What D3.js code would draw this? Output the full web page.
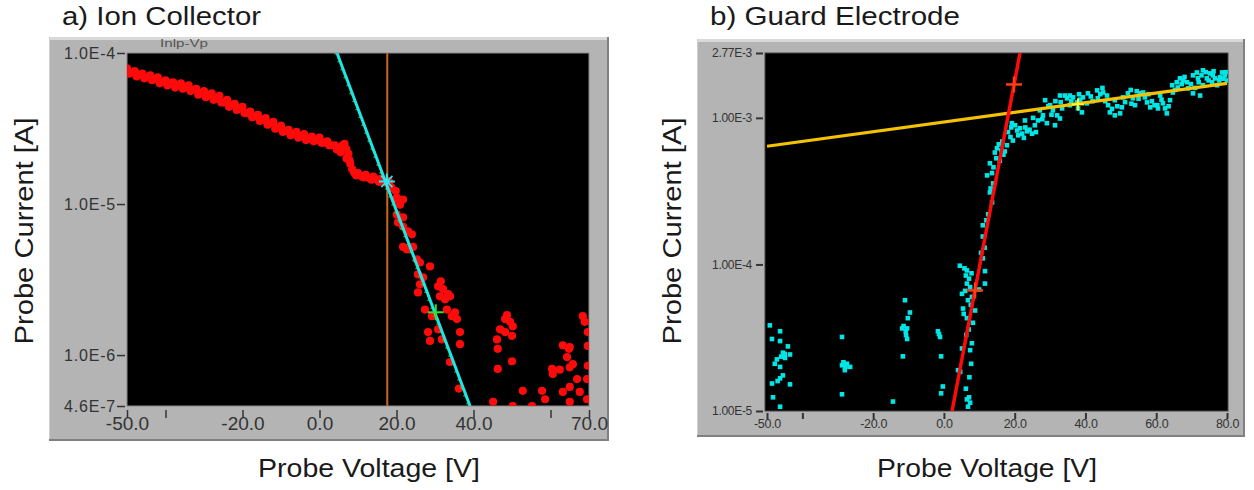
<!DOCTYPE html>
<html><head><meta charset="utf-8">
<script src="https://cdn.jsdelivr.net/npm/d3@7"></script>
<style>
html,body{margin:0;padding:0;background:#fff;}
svg{display:block;font-family:"Liberation Sans",Arial,Helvetica,sans-serif;}
</style></head><body>
<svg id="chart" width="1254" height="490"></svg>
<script>
// ---------------- a) Ion Collector ----------------
const ionXDomain = [-50, 70];
const ionYDomain = [4.6e-7, 1e-4];
const ionXTicks = [-50, -40, -20, 0, 20, 40, 60, 70];
const ionXTickLabels = ["-50.0", "", "-20.0", "0.0", "20.0", "40.0", "", "70.0"];
const ionYTicks = [1e-4, 1e-5, 1e-6, 4.6e-7];
const ionYTickLabels = ["1.0E-4", "1.0E-5", "1.0E-6", "4.6E-7"];

// measured probe points [voltage V, current A]
const ionPoints = [
  [-50,7.9e-5],[-49,7.4e-5],[-48,7.6e-5],[-47,7.2e-5],[-46,7.3e-5],[-45,6.9e-5],[-44,7.1e-5],[-43,6.7e-5],
  [-42,6.9e-5],[-41,6.4e-5],[-40,6.6e-5],[-39,6.3e-5],[-38,6.4e-5],[-37,6.1e-5],[-36,6.3e-5],[-35,5.9e-5],
  [-34,6.1e-5],[-33,5.7e-5],[-32,5.8e-5],[-31,5.4e-5],[-30,5.6e-5],[-29,5.2e-5],[-28,5.4e-5],[-27,5.0e-5],
  [-26,5.2e-5],[-25,4.7e-5],[-24,4.9e-5],[-23,4.5e-5],[-22,4.6e-5],[-21,4.3e-5],[-20,4.4e-5],[-19,4.0e-5],
  [-18,4.1e-5],[-17,3.8e-5],[-16,3.9e-5],[-15,3.6e-5],[-14,3.7e-5],[-13,3.4e-5],[-12,3.5e-5],[-11,3.2e-5],
  [-10,3.3e-5],[-9,3.05e-5],[-8,3.1e-5],[-7,2.9e-5],[-6,3.0e-5],[-5,2.8e-5],[-4,2.9e-5],[-3,2.7e-5],
  [-2,2.8e-5],[-1,2.65e-5],[0,2.75e-5],[1,2.55e-5],[2,2.6e-5],[3,2.45e-5],[4,2.45e-5],[5,2.3e-5],
  [5.5,2.2e-5],[6,2.45e-5],[6.5,2.5e-5],[7,2.3e-5],[7,2.0e-5],[7.5,2.15e-5],[8,1.85e-5],[8.5,1.7e-5],
  [9,1.62e-5],[10,1.6e-5],[11,1.52e-5],[12,1.56e-5],[13,1.48e-5],[14,1.52e-5],[15,1.45e-5],[16,1.47e-5],
  [17,1.4e-5],[18,1.42e-5],[18.5,1.3e-5],
  [-49.5,7.3e-5],[-47.5,7.0e-5],[-45.5,6.8e-5],[-43.5,6.6e-5],[-41.5,6.3e-5],[-39.5,6.1e-5],[-37.5,5.9e-5],
  [-35.5,5.8e-5],[-33.5,5.6e-5],[-31.5,5.3e-5],[-29.5,5.1e-5],[-27.5,4.9e-5],[-25.5,4.7e-5],[-23.5,4.4e-5],
  [-21.5,4.2e-5],[-19.5,4.0e-5],[-17.5,3.75e-5],[-15.5,3.55e-5],[-13.5,3.35e-5],[-11.5,3.15e-5],[-9.5,3.0e-5],
  [-7.5,2.85e-5],[-5.5,2.75e-5],[-3.5,2.65e-5],[-1.5,2.6e-5],[0.5,2.55e-5],[2.5,2.45e-5],[4.5,2.3e-5],
  [7.8,1.95e-5],[9.5,1.55e-5],[11.5,1.5e-5],[13.5,1.45e-5],[15.5,1.4e-5],[17.5,1.38e-5],
  [18.3,1.3e-5],[19.8,1.22e-5],[18.6,1.28e-5],[19.6,1.07e-5],[20.1,1.1e-5],[21.7,1.07e-5],[20.9,9.9e-6],
  [21.7,8.15e-6],[20.1,8.5e-6],[20.4,7.55e-6],[21.7,7.1e-6],[23.0,6.6e-6],[24.0,6.3e-6],[21.7,5.2e-6],
  [22.7,5.0e-6],[24.3,5.2e-6],[25.3,4.3e-6],[26.1,4.1e-6],[28.7,3.86e-6],[25.6,3.42e-6],[26.1,2.94e-6],
  [25.6,2.6e-6],[26.9,3.27e-6],[30.8,2.85e-6],[32.1,2.73e-6],[33.4,2.53e-6],[32.6,2.34e-6],[31.3,2.45e-6],
  [31.5,3.08e-6],[33.9,2.45e-6],[35.2,1.92e-6],[35.7,1.73e-6],[34.4,1.81e-6],[33.1,2.0e-6],[27.4,2.0e-6],
  [29.2,1.81e-6],[28.2,1.42e-6],[28.7,1.24e-6],[30.8,1.48e-6],[36.5,1.42e-6],[36.5,1.18e-6],[31.8,1.27e-6],
  [33.9,9.0e-7],[36.2,6.0e-7],
  [48.2,1.73e-6],[49.5,1.66e-6],[50.2,1.55e-6],[46.9,1.48e-6],[48.2,1.42e-6],[50.0,1.34e-6],[46.1,1.27e-6],
  [48.7,1.84e-6],[46.3,1.1e-6],[50.0,9.1e-7],[46.3,8.1e-7],[52.8,5.8e-7],[57.8,5.8e-7],[58.6,5.1e-7],
  [45.1,4.9e-7],[50.2,4.6e-7],[55.2,4.6e-7],[60.4,8.1e-7],[60.6,7.5e-7],[62.4,8.0e-7],[63.2,1.16e-6],
  [65.0,1.13e-6],[64.3,9.7e-7],[65.8,8.7e-7],[65.0,8.3e-7],[66.9,6.94e-7],[65.0,6.15e-7],[63.2,5.7e-7],
  [65.0,4.9e-7],[69.5,6.94e-7],[69.7,1.15e-6],[69.7,8.5e-7],[68.4,1.81e-6],[68.9,1.66e-6],[69.7,1.42e-6],
  [67.6,5.7e-7],[69.5,5.1e-7],[64.8,1.1e-6]
];
const ionFitVoltage = [4.55, 39.1];
const ionFitCurrent = [1e-4, 4.6e-7];
const ionPlasmaPotential = 17.6;
const ionStarMarker = [17.5, 1.41e-5];
const ionGreenMarker = [30.2, 1.92e-6];

// ---------------- b) Guard Electrode ----------------
const guardXDomain = [-50, 80];
const guardYDomain = [1e-5, 2.77e-3];
const guardXTicks = [-50, -40, -20, 0, 20, 40, 60, 80];
const guardXTickLabels = ["-50.0", "", "-20.0", "0.0", "20.0", "40.0", "60.0", "80.0"];
const guardYTicks = [2.77e-3, 1e-3, 1e-4, 1e-5];
const guardYTickLabels = ["2.77E-3", "1.00E-3", "1.00E-4", "1.00E-5"];

const guardPoints = [
  [-49.2,3.84e-5],[-46.3,3.5e-5],[-48.6,3.1e-5],[-46.3,3.0e-5],[-44.1,2.76e-5],[-45.5,2.5e-5],[-43.5,2.43e-5],
  [-44.9,2.3e-5],[-47.2,2.25e-5],[-46.3,2.0e-5],[-45.5,1.75e-5],[-46.3,1.67e-5],[-48.6,1.54e-5],[-43.5,1.52e-5],
  [-48.3,1.24e-5],[-46.3,1.07e-5],[-47.8,2.1e-5],[-46.0,2.35e-5],[-45.0,2.45e-5],[-47.0,1.6e-5],
  [-28.8,3.2e-5],[-26.5,2.0e-5],[-28.8,2.05e-5],[-28.0,1.9e-5],[-27.4,2.1e-5],[-28.8,1.3e-5],[-27.8,2.0e-5],[-28.4,2.15e-5],
  [-11.0,5.7e-5],[-9.6,4.7e-5],[-10.2,4.3e-5],[-11.8,3.66e-5],[-10.4,3.66e-5],[-10.7,3.3e-5],[-10.4,3.1e-5],
  [-11.6,2.36e-5],[-14.4,1.16e-5],[-10.8,3.5e-5],[-11.4,3.8e-5],
  [-1.7,3.5e-5],[-1.1,3.2e-5],[-0.8,2.36e-5],[-0.3,1.47e-5],[-0.8,1.32e-5],[-1.4,3.35e-5],
  [4.5,9.8e-5],[6.5,9.1e-5],[6.2,8.4e-5],[7.1,8.0e-5],[6.5,7.4e-5],[7.4,7.0e-5],[5.1,6.3e-5],[6.8,5.7e-5],
  [7.9,6.0e-5],[5.4,5.0e-5],[6.5,4.3e-5],[8.2,4.0e-5],[7.9,2.9e-5],[5.1,2.67e-5],[7.4,2.6e-5],[7.7,2.1e-5],
  [4.0,1.9e-5],[6.2,1.42e-5],[7.1,1.24e-5],[7.4,1.14e-5],[6.8,1.07e-5],[11.0,1.1e-4],[11.6,9.0e-5],
  [11.6,7.4e-5],[9.9,6.75e-5],[8.8,4.85e-5],
  [5.8,9.4e-5],[7.8,8.7e-5],[6.0,6.6e-5],[7.6,5.3e-5],[5.6,4.6e-5],[7.0,3.6e-5],[6.3,3.3e-5],[7.2,1.7e-5],
  [6.5,1.2e-5],[4.6,1.85e-5],
  [11.0,1.85e-4],[11.0,1.55e-4],[14.4,5.8e-4],[15.0,6.2e-4],[13.0,4.9e-4],[13.6,4.2e-4],[12.2,4.05e-4],
  [13.9,3.57e-4],[13.0,3.1e-4],[13.6,2.65e-4],
  [12.5,2.2e-4],[12.0,2.0e-4],[13.2,3.3e-4],[14.0,4.6e-4],[14.8,5.3e-4],[15.5,6.6e-4],[16.2,6.0e-4],
  [16.8,5.6e-4],[15.8,5.1e-4],[17.2,5.9e-4],[16.5,6.9e-4],[11.5,1.3e-4],[10.5,1.2e-4],
  [17.8,6.5e-4],[18.1,8.0e-4],[19.2,9.2e-4],[20.1,8.9e-4],[20.7,8.2e-4],[21.5,8.5e-4],[23.5,8.1e-4],
  [24.9,7.8e-4],[22.1,7.8e-4],[25.2,1.0e-3],[26.6,9.6e-4],[28.0,1.04e-3],[29.1,9.2e-4],[28.6,1.32e-3],
  [18.8,7.4e-4],[19.5,7.0e-4],[21.0,7.6e-4],[22.6,7.3e-4],[23.0,8.6e-4],[24.2,8.3e-4],[19.0,8.6e-4],[26.0,8.0e-4],
  [30.8,1.125e-3],[32.0,1.04e-3],[32.8,9.9e-4],[33.4,1.16e-3],[34.8,1.36e-3],[35.6,1.42e-3],[36.5,1.38e-3],
  [37.6,1.275e-3],[37.9,1.16e-3],[39.0,1.09e-3],[40.4,1.256e-3],[40.7,1.47e-3],[39.3,1.38e-3],[43.3,1.54e-3],
  [45.0,1.49e-3],[46.1,1.42e-3],[43.5,1.36e-3],[46.4,1.22e-3],[46.9,1.09e-3],[48.3,1.04e-3],[49.8,1.073e-3],
  [50.3,1.18e-3],[50.6,1.38e-3],[52.0,1.47e-3],[53.4,1.36e-3],[55.4,1.47e-3],[56.3,1.49e-3],[57.4,1.275e-3],
  [58.3,1.18e-3],[60.5,1.16e-3],[63.0,1.073e-3],[61.9,1.256e-3],[63.9,1.32e-3],[64.7,1.49e-3],[66.1,1.61e-3],
  [66.7,1.86e-3],[68.7,1.75e-3],[69.0,1.59e-3],[70.4,1.47e-3],[72.4,1.42e-3],[71.8,1.86e-3],[71.5,2.04e-3],
  [73.2,2.11e-3],[75.2,2.01e-3],[76.6,1.86e-3],[78.0,1.89e-3],[79.4,1.95e-3],[80.0,1.80e-3],[74.3,1.86e-3],
  [70.4,1.95e-3],[73.2,1.67e-3],[77.2,1.67e-3],[34.2,1.42e-3],[30.0,1.22e-3],[32.8,1.42e-3],[35.6,1.22e-3],
  [64.5,1.67e-3],[61.1,1.42e-3],[60.3,1.22e-3],[27.1,1.125e-3],[25.7,8.9e-4],[31.4,8.9e-4],[22.9,9.6e-4],
  [48.3,1.32e-3],[54.0,1.22e-3],[67.6,1.80e-3],[75.8,1.75e-3],[78.6,2.04e-3],
  [29.5,1.2e-3],[31.5,1.3e-3],[33.0,1.28e-3],[36.0,1.3e-3],[38.5,1.33e-3],[41.5,1.4e-3],[42.0,1.3e-3],
  [44.2,1.45e-3],[45.6,1.3e-3],[47.5,1.15e-3],[49.0,1.2e-3],[51.2,1.28e-3],[52.8,1.55e-3],[54.5,1.52e-3],
  [55.0,1.35e-3],[56.8,1.38e-3],[58.8,1.3e-3],[59.5,1.22e-3],[62.5,1.16e-3],[63.5,1.2e-3],[65.3,1.55e-3],
  [65.8,1.75e-3],[67.2,1.7e-3],[68.0,1.9e-3],[69.8,1.7e-3],[71.0,1.6e-3],[72.0,1.75e-3],[72.8,1.95e-3],
  [74.0,2.05e-3],[74.8,1.8e-3],[76.0,1.95e-3],[77.8,1.8e-3],[79.0,1.85e-3],[79.6,2.05e-3],[76.2,2.08e-3],
  [61.5,1.33e-3],[57.8,1.45e-3],[53.0,1.25e-3],[44.8,1.6e-3],[38.2,1.45e-3],[30.4,1.05e-3],[27.8,9.8e-4]
];
const guardSatVoltage = [-50, 80];
const guardSatCurrent = [6.4e-4, 1.72e-3];
const guardSlopeVoltage = [2.3, 21.5];
const guardSlopeCurrent = [1e-5, 2.77e-3];
const guardRedMarkers = [[19.8, 1.69e-3], [8.8, 6.65e-5]];
const guardYellowMarker = [37.9, 1.236e-3];

// ---------------- drawing ----------------
const svg = d3.select("#chart");
const defs = svg.append("defs");

function panel(cfg) {
  const g = svg.append("g");
  const f = cfg.frame, p = cfg.plot;
  g.append("rect").attr("x", f.x).attr("y", f.y).attr("width", f.w).attr("height", f.h).attr("fill", "#b4b4b4");
  g.append("line").attr("x1", f.x).attr("x2", f.x + f.w).attr("y1", f.y + 1.5).attr("y2", f.y + 1.5)
    .attr("stroke", "#d9d9d9").attr("stroke-width", 3);
  g.append("line").attr("x1", f.x + 0.5).attr("x2", f.x + 0.5).attr("y1", f.y).attr("y2", f.y + f.h)
    .attr("stroke", "#cfcfcf").attr("stroke-width", 1);
  g.append("path").attr("d", `M${f.x},${f.y + f.h - 1}H${f.x + f.w - 1}V${f.y}`)
    .attr("fill", "none").attr("stroke", "#808080").attr("stroke-width", 2);
  g.append("rect").attr("x", p.x).attr("y", p.y).attr("width", p.w).attr("height", p.h)
    .attr("fill", "#000").attr("stroke", cfg.plotStroke).attr("stroke-width", 1);
  defs.append("clipPath").attr("id", cfg.id).append("rect")
    .attr("x", p.x).attr("y", p.y).attr("width", p.w).attr("height", p.h);
  const inner = g.append("g").attr("clip-path", `url(#${cfg.id})`);
  return {g, inner};
}

function styleAxis(sel, color, width, size, spacing) {
  sel.select(".domain").remove();
  sel.selectAll(".tick line").attr("stroke", color).attr("stroke-width", width);
  sel.selectAll(".tick text").attr("fill", color).style("font-size", size + "px")
    .style("letter-spacing", spacing + "px")
    .style("font-family", '"Liberation Sans",Arial,Helvetica,sans-serif');
}

function cross(sel, x, y, arm, color, w, diag) {
  sel.append("line").attr("x1", x - arm).attr("x2", x + arm).attr("y1", y).attr("y2", y)
    .attr("stroke", color).attr("stroke-width", w);
  sel.append("line").attr("x1", x).attr("x2", x).attr("y1", y - arm).attr("y2", y + arm)
    .attr("stroke", color).attr("stroke-width", w);
  if (diag) {
    const a = arm * 0.7;
    sel.append("line").attr("x1", x - a).attr("x2", x + a).attr("y1", y - a).attr("y2", y + a)
      .attr("stroke", color).attr("stroke-width", w * 0.8);
    sel.append("line").attr("x1", x - a).attr("x2", x + a).attr("y1", y + a).attr("y2", y - a)
      .attr("stroke", color).attr("stroke-width", w * 0.8);
  }
}

function bigText(x, y, txt, len, rotate, anchor) {
  const t = svg.append("text").attr("x", x).attr("y", y).text(txt)
    .attr("fill", "#1a1a1a").style("font-size", "25px")
    .attr("text-anchor", anchor || "start")
    .attr("textLength", len).attr("lengthAdjust", "spacingAndGlyphs");
  if (rotate) t.attr("transform", `rotate(-90,${x},${y})`);
}

// ----- left panel -----
{
  const {g, inner} = panel({id: "clipA", frame: {x: 49, y: 37, w: 560, h: 404},
    plot: {x: 127, y: 53, w: 462, h: 353}, plotStroke: "#8a8a8a"});
  const x = d3.scaleLinear().domain(ionXDomain).range([127, 589]);
  const y = d3.scaleLog().domain(ionYDomain).range([406, 53]);

  inner.selectAll("circle.pt").data(ionPoints).join("circle").attr("class", "pt")
    .attr("cx", d => x(d[0])).attr("cy", d => y(d[1])).attr("r", 4.1).attr("fill", "#ff0a0a");

  inner.append("line").attr("x1", x(ionPlasmaPotential)).attr("x2", x(ionPlasmaPotential))
    .attr("y1", 53).attr("y2", 406).attr("stroke", "#c8661e").attr("stroke-width", 2);

  const fit = ionFitVoltage.map((v, i) => [v, ionFitCurrent[i]]);
  const line = d3.line().x(d => x(d[0])).y(d => y(d[1]));
  inner.append("path").attr("d", line(fit)).attr("fill", "none")
    .attr("stroke", "#1ee6e6").attr("stroke-width", 3);
  inner.append("path").attr("d", line(fit)).attr("fill", "none").attr("transform", "translate(-2,0)")
    .attr("stroke", "#33cc33").attr("stroke-width", 1.5).attr("stroke-dasharray", "1.5 7");

  cross(inner, x(ionStarMarker[0]), y(ionStarMarker[1]), 8, "#2ee8ee", 2, true);
  cross(inner, x(ionGreenMarker[0]), y(ionGreenMarker[1]), 8, "#33dd33", 2, false);

  const xa = g.append("g").attr("transform", "translate(0,410)")
    .call(d3.axisBottom(x).tickValues(ionXTicks).tickFormat((d, i) => ionXTickLabels[i]).tickSize(8).tickPadding(-1));
  styleAxis(xa, "#333", 1.5, 19, 0);
  const ya = g.append("g").attr("transform", "translate(125,0)")
    .call(d3.axisLeft(y).tickValues(ionYTicks).tickFormat((d, i) => ionYTickLabels[i]).tickSize(8).tickPadding(1));
  styleAxis(ya, "#333", 1.5, 16, 0.8);

  g.append("text").attr("x", 160).attr("y", 47).text("Inlp-Vp").attr("fill", "#555")
    .style("font-size", "11px").attr("textLength", 48).attr("lengthAdjust", "spacingAndGlyphs");
}

// ----- right panel -----
{
  const {g, inner} = panel({id: "clipB", frame: {x: 697, y: 39, w: 548, h: 398},
    plot: {x: 765, y: 53, w: 463, h: 358}, plotStroke: "#444"});
  const x = d3.scaleLinear().domain(guardXDomain).range([767, 1227]);
  const y = d3.scaleLog().domain(guardYDomain).range([411, 53]);

  inner.selectAll("rect.pt").data(guardPoints).join("rect").attr("class", "pt")
    .attr("x", d => x(d[0]) - 2.3).attr("y", d => y(d[1]) - 2.3).attr("width", 4.6).attr("height", 4.6)
    .attr("fill", "#00e6e6");

  const line = d3.line().x(d => x(d[0])).y(d => y(d[1]));
  inner.append("path").attr("d", line(guardSatVoltage.map((v, i) => [v, guardSatCurrent[i]])))
    .attr("fill", "none").attr("stroke", "#f5c200").attr("stroke-width", 3.2);
  inner.append("path").attr("d", line(guardSlopeVoltage.map((v, i) => [v, guardSlopeCurrent[i]])))
    .attr("fill", "none").attr("stroke", "#ff0a0a").attr("stroke-width", 3.5);

  guardRedMarkers.forEach(m => cross(inner, x(m[0]), y(m[1]), 8, "#ff3c14", 2.5, false));
  cross(inner, x(guardYellowMarker[0]), y(guardYellowMarker[1]), 6, "#ffff33", 2, false);

  const xa = g.append("g").attr("transform", "translate(0,413)")
    .call(d3.axisBottom(x).tickValues(guardXTicks).tickFormat((d, i) => guardXTickLabels[i]).tickSize(6).tickPadding(0));
  styleAxis(xa, "#333", 2, 12.5, -0.3);
  const ya = g.append("g").attr("transform", "translate(763,0)")
    .call(d3.axisLeft(y).tickValues(guardYTicks).tickFormat((d, i) => guardYTickLabels[i]).tickSize(7).tickPadding(4));
  styleAxis(ya, "#333", 2, 12, -0.3);
}

// ----- titles -----
bigText(62, 25, "a) Ion Collector", 199);
bigText(710, 25, "b) Guard Electrode", 250);
bigText(33, 231, "Probe Current [A]", 227, true, "middle");
bigText(681, 231, "Probe Current [A]", 227, true, "middle");
bigText(369, 477, "Probe Voltage [V]", 222, false, "middle");
bigText(987, 477, "Probe Voltage [V]", 220, false, "middle");
</script>
</body></html>
